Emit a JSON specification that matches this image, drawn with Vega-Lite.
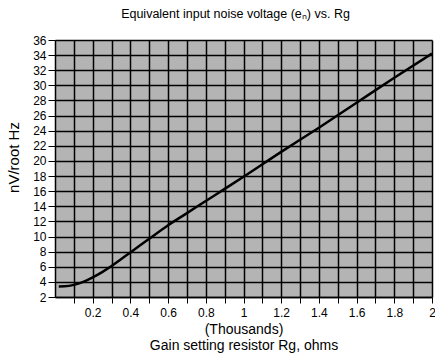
{
  "$schema": "https://vega.github.io/schema/vega-lite/v6.json",
  "autosize": "none",
  "width": 377,
  "height": 257,
  "padding": {"left": 55, "top": 40, "right": 3, "bottom": 59},
  "background": "white",
  "config": {
    "font": "Liberation Sans",
    "view": {"fill": "#b4b4b4", "stroke": null}
  },
  "title": {
    "text": "Equivalent input noise voltage (eₙ) vs. Rg",
    "fontSize": 12.5,
    "fontWeight": "normal",
    "color": "black",
    "anchor": "middle",
    "dx": -8,
    "offset": 14
  },
  "data": {
    "values": [
      {"rg": 0.02, "en": 3.4},
      {"rg": 0.05, "en": 3.42},
      {"rg": 0.1, "en": 3.6},
      {"rg": 0.15, "en": 4.0},
      {"rg": 0.2, "en": 4.6},
      {"rg": 0.25, "en": 5.3},
      {"rg": 0.3, "en": 6.1},
      {"rg": 0.35, "en": 7.0},
      {"rg": 0.4, "en": 7.9},
      {"rg": 0.5, "en": 9.7},
      {"rg": 0.6, "en": 11.5},
      {"rg": 0.7, "en": 13.1},
      {"rg": 0.8, "en": 14.7},
      {"rg": 0.9, "en": 16.3},
      {"rg": 1.0, "en": 17.9},
      {"rg": 1.2, "en": 21.2},
      {"rg": 1.4, "en": 24.4},
      {"rg": 1.6, "en": 27.7},
      {"rg": 1.8, "en": 31.0},
      {"rg": 2.0, "en": 34.2}
    ]
  },
  "mark": {"type": "line", "color": "black", "strokeWidth": 2.5, "interpolate": "monotone"},
  "encoding": {
    "x": {
      "field": "rg",
      "type": "quantitative",
      "scale": {"domain": [0, 2], "nice": false, "zero": false},
      "axis": {
        "values": [0.1, 0.2, 0.3, 0.4, 0.5, 0.6, 0.7, 0.8, 0.9, 1.0, 1.1, 1.2, 1.3, 1.4, 1.5, 1.6, 1.7, 1.8, 1.9, 2.0],
        "labelExpr": "round(datum.value*10) % 2 == 0 ? format(datum.value, '~g') : ''",
        "title": ["(Thousands)", "Gain setting resistor Rg, ohms"],
        "titleFontSize": 14,
        "titleFontWeight": "normal",
        "titleColor": "black",
        "titlePadding": 4,
        "labelFontSize": 12,
        "labelColor": "black",
        "labelPadding": 4,
        "labelFlush": false,
        "tickColor": "black",
        "tickSize": 6,
        "domainColor": "black",
        "domainWidth": 1.5,
        "grid": true,
        "gridColor": "black",
        "gridWidth": 1.5,
        "gridOpacity": 1
      }
    },
    "y": {
      "field": "en",
      "type": "quantitative",
      "scale": {"domain": [2, 36], "nice": false, "zero": false},
      "axis": {
        "values": [2, 4, 6, 8, 10, 12, 14, 16, 18, 20, 22, 24, 26, 28, 30, 32, 34, 36],
        "title": "nV/root Hz",
        "titleFontSize": 15,
        "titleFontWeight": "normal",
        "titleColor": "black",
        "titlePadding": 11,
        "titleY": 117,
        "labelFontSize": 12,
        "labelColor": "black",
        "labelPadding": 2,
        "labelFlush": false,
        "tickColor": "black",
        "tickSize": 7,
        "domainColor": "black",
        "domainWidth": 1.5,
        "grid": true,
        "gridColor": "black",
        "gridWidth": 1.5,
        "gridOpacity": 1
      }
    }
  }
}
